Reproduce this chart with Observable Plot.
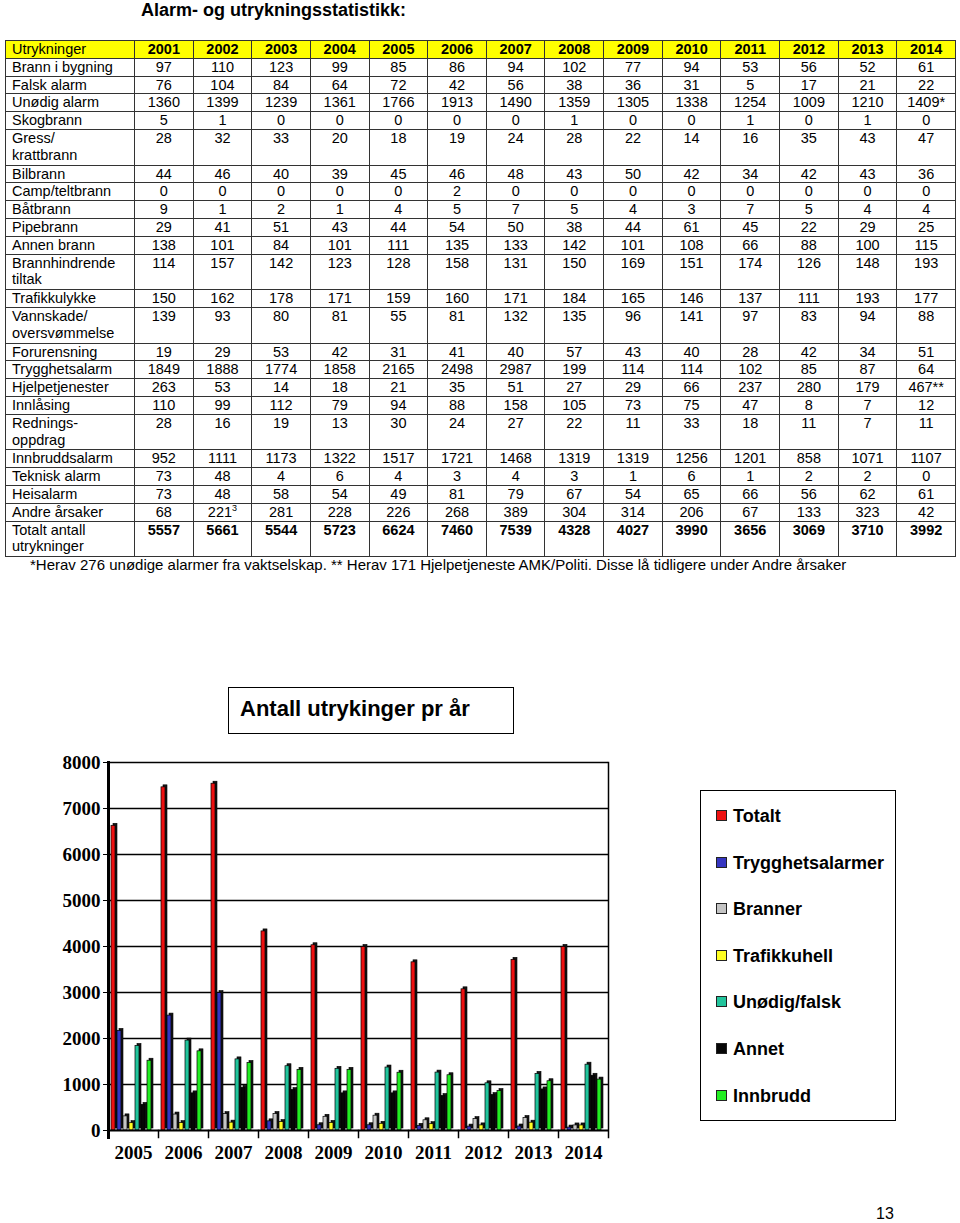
<!DOCTYPE html>
<html>
<head>
<meta charset="utf-8">
<script src="https://cdn.jsdelivr.net/npm/d3@7"></script>
<script src="https://cdn.jsdelivr.net/npm/@observablehq/plot@0.6"></script>
<style>
  html, body { margin: 0; padding: 0; background: #fff; }
  #page { position: relative; width: 960px; height: 1223px; overflow: hidden; font-family: "Liberation Sans", Arial, sans-serif; color: #000; }
  #title { position: absolute; left: 141px; top: 0px; font-size: 18px; line-height: 20px; font-weight: bold; }
  #tbl { position: absolute; left: 5px; top: 40px; width: 951px; border-collapse: collapse; table-layout: fixed; font-size: 14.5px; }
  #tbl td { border: 1px solid #333; padding: 0; line-height: 16.8px; text-align: center; vertical-align: top; white-space: nowrap; }
  #tbl td.lab { text-align: left; padding-left: 6px; }
  #tbl tr.head td { background: #ffff00; font-weight: bold; }
  #tbl tr.head td.lab { font-weight: normal; }
  #tbl tr.tot td { font-weight: bold; }
  #tbl tr.tot td.lab { font-weight: normal; }
  #note { position: absolute; left: 30px; top: 556px; font-size: 15px; line-height: 18px; white-space: nowrap; }
  #ctitle { position: absolute; left: 228px; top: 687px; width: 286px; height: 47px; border: 1.5px solid #000; box-sizing: border-box; font-size: 22px; font-weight: bold; padding-left: 11px; line-height: 42px; }
  #chart { position: absolute; left: 0; top: 740px; }
  #legend { position: absolute; left: 700px; top: 790px; width: 196px; height: 331px; border: 1.5px solid #000; box-sizing: border-box; }
  .li { position: absolute; left: 15px; font-size: 18px; font-weight: bold; height: 22px; line-height: 22px; white-space: nowrap; }
  .sw { display: inline-block; width: 9px; height: 9px; border: 1px solid #222; margin-right: 6px; vertical-align: 1px; }
  #pnum { position: absolute; left: 876px; top: 1205px; font-size: 16px; }
</style>
</head>
<body>
<div id="page">
  <div id="title">Alarm- og utrykningsstatistikk:</div>
  <table id="tbl"></table>
  <div id="note">*Herav 276 unødige alarmer fra vaktselskap. ** Herav 171 Hjelpetjeneste AMK/Politi. Disse lå tidligere under Andre årsaker</div>
  <div id="ctitle">Antall utrykinger pr år</div>
  <div id="chart"></div>
  <div id="legend"></div>
  <div id="pnum">13</div>
</div>
<script>
// ---------- Table data ----------
const tableYears = [2001, 2002, 2003, 2004, 2005, 2006, 2007, 2008, 2009, 2010, 2011, 2012, 2013, 2014];
const brannIBygning = [97, 110, 123, 99, 85, 86, 94, 102, 77, 94, 53, 56, 52, 61];
const falskAlarm = [76, 104, 84, 64, 72, 42, 56, 38, 36, 31, 5, 17, 21, 22];
const unodigAlarm = [1360, 1399, 1239, 1361, 1766, 1913, 1490, 1359, 1305, 1338, 1254, 1009, 1210, "1409*"];
const skogbrann = [5, 1, 0, 0, 0, 0, 0, 1, 0, 0, 1, 0, 1, 0];
const gressKrattbrann = [28, 32, 33, 20, 18, 19, 24, 28, 22, 14, 16, 35, 43, 47];
const bilbrann = [44, 46, 40, 39, 45, 46, 48, 43, 50, 42, 34, 42, 43, 36];
const campTeltbrann = [0, 0, 0, 0, 0, 2, 0, 0, 0, 0, 0, 0, 0, 0];
const baatbrann = [9, 1, 2, 1, 4, 5, 7, 5, 4, 3, 7, 5, 4, 4];
const pipebrann = [29, 41, 51, 43, 44, 54, 50, 38, 44, 61, 45, 22, 29, 25];
const annenBrann = [138, 101, 84, 101, 111, 135, 133, 142, 101, 108, 66, 88, 100, 115];
const brannhindrende = [114, 157, 142, 123, 128, 158, 131, 150, 169, 151, 174, 126, 148, 193];
const trafikkulykke = [150, 162, 178, 171, 159, 160, 171, 184, 165, 146, 137, 111, 193, 177];
const vannskade = [139, 93, 80, 81, 55, 81, 132, 135, 96, 141, 97, 83, 94, 88];
const forurensning = [19, 29, 53, 42, 31, 41, 40, 57, 43, 40, 28, 42, 34, 51];
const trygghetsalarm = [1849, 1888, 1774, 1858, 2165, 2498, 2987, 199, 114, 114, 102, 85, 87, 64];
const hjelpetjenester = [263, 53, 14, 18, 21, 35, 51, 27, 29, 66, 237, 280, 179, "467**"];
const innlaasing = [110, 99, 112, 79, 94, 88, 158, 105, 73, 75, 47, 8, 7, 12];
const redningsoppdrag = [28, 16, 19, 13, 30, 24, 27, 22, 11, 33, 18, 11, 7, 11];
const innbruddsalarm = [952, 1111, 1173, 1322, 1517, 1721, 1468, 1319, 1319, 1256, 1201, 858, 1071, 1107];
const tekniskAlarm = [73, 48, 4, 6, 4, 3, 4, 3, 1, 6, 1, 2, 2, 0];
const heisalarm = [73, 48, 58, 54, 49, 81, 79, 67, 54, 65, 66, 56, 62, 61];
const andreAarsaker = [68, "221³", 281, 228, 226, 268, 389, 304, 314, 206, 67, 133, 323, 42];
const totaltAntall = [5557, 5661, 5544, 5723, 6624, 7460, 7539, 4328, 4027, 3990, 3656, 3069, 3710, 3992];

const tableRows = [
  ["Brann i bygning", brannIBygning],
  ["Falsk alarm", falskAlarm],
  ["Unødig alarm", unodigAlarm],
  ["Skogbrann", skogbrann],
  ["Gress/\nkrattbrann", gressKrattbrann],
  ["Bilbrann", bilbrann],
  ["Camp/teltbrann", campTeltbrann],
  ["Båtbrann", baatbrann],
  ["Pipebrann", pipebrann],
  ["Annen brann", annenBrann],
  ["Brannhindrende\ntiltak", brannhindrende],
  ["Trafikkulykke", trafikkulykke],
  ["Vannskade/\noversvømmelse", vannskade],
  ["Forurensning", forurensning],
  ["Trygghetsalarm", trygghetsalarm],
  ["Hjelpetjenester", hjelpetjenester],
  ["Innlåsing", innlaasing],
  ["Rednings-\noppdrag", redningsoppdrag],
  ["Innbruddsalarm", innbruddsalarm],
  ["Teknisk alarm", tekniskAlarm],
  ["Heisalarm", heisalarm],
  ["Andre årsaker", andreAarsaker],
  ["Totalt antall\nutrykninger", totaltAntall]
];

// ---------- Chart data ----------
const chartYears = [2005, 2006, 2007, 2008, 2009, 2010, 2011, 2012, 2013, 2014];
const seriesNames = ["Totalt", "Trygghetsalarmer", "Branner", "Trafikkuhell", "Unødig/falsk", "Annet", "Innbrudd"];
const seriesColors = ["#ee1111", "#3535c0", "#c4c4c4", "#ffff22", "#22c49c", "#060606", "#22ee22"];
const totalt = [6624, 7460, 7539, 4328, 4027, 3990, 3656, 3069, 3710, 3992];
const trygghetsalarmer = [2165, 2498, 2987, 199, 114, 114, 102, 85, 87, 64];
const branner = [307, 347, 356, 359, 298, 322, 222, 248, 272, 110];
const trafikkuhell = [159, 160, 171, 184, 165, 146, 137, 111, 170, 110];
const unodigFalsk = [1838, 1955, 1546, 1397, 1341, 1369, 1259, 1026, 1231, 1431];
const annet = [557, 807, 929, 879, 807, 807, 750, 771, 893, 1190];
const innbrudd = [1517, 1721, 1468, 1319, 1319, 1256, 1201, 858, 1071, 1107];
const yTicks = [0, 1000, 2000, 3000, 4000, 5000, 6000, 7000, 8000];

// ---------- Build table ----------
const tbl = document.getElementById("tbl");
const colgroup = document.createElement("colgroup");
colgroup.innerHTML = `<col style="width:129px">` + tableYears.map(() => `<col>`).join("");
tbl.appendChild(colgroup);
function addRow(label, values, cls) {
  const tr = document.createElement("tr");
  if (cls) tr.className = cls;
  const lines = label.split("\n").length;
  const h = lines > 1 ? 35.6 : 17.8;
  const td0 = document.createElement("td");
  td0.className = "lab";
  td0.style.height = (h - 1) + "px";
  td0.innerHTML = label.split("\n").join("<br>");
  tr.appendChild(td0);
  values.forEach(v => {
    const td = document.createElement("td");
    const s = String(v);
    if (s.endsWith("³")) td.innerHTML = s.slice(0, -1) + '<sup style="font-size:9px;line-height:0;vertical-align:6px">3</sup>';
    else td.textContent = s;
    tr.appendChild(td);
  });
  tbl.appendChild(tr);
}
addRow("Utrykninger", tableYears, "head");
tableRows.forEach(([lab, vals], i) => addRow(lab, vals, i === tableRows.length - 1 ? "tot" : null));

// ---------- Build chart ----------
const seriesValues = [totalt, trygghetsalarmer, branner, trafikkuhell, unodigFalsk, annet, innbrudd];
const data = chartYears.flatMap((yr, i) => seriesNames.map((s, j) => ({year: yr, series: s, value: seriesValues[j][i]})));

const W = 640, H = 440, mT = 22, mB = 50, mL = 105, mR = 30;
const plotH = H - mT - mB;

const chart = Plot.plot({
  width: W, height: H, marginTop: mT, marginBottom: mB, marginLeft: mL, marginRight: mR,
  style: {fontFamily: "'Liberation Serif', 'Times New Roman', serif", fontSize: "19px", fontWeight: "bold", background: "white", overflow: "visible", color: "#000"},
  fx: {domain: chartYears, padding: 0, axis: "bottom", tickSize: 0, tickPadding: 15, tickFormat: d3.format("d"), label: null},
  x: {domain: seriesNames, paddingInner: 0, paddingOuter: 0.5, align: 0.35, axis: null},
  y: {domain: [0, 8000], ticks: yTicks, tickFormat: d3.format("d"), tickSize: 5, tickPadding: 3, label: null},
  color: {domain: seriesNames, range: seriesColors},
  marks: [
    Plot.ruleY(yTicks.filter(d => d > 0), {stroke: "#000", strokeWidth: 1.5}),
    Plot.barY(data, {fx: "year", x: "series", y: "value", fill: "#151515", stroke: "#000", strokeWidth: 0.6, dx: 2, dy: -2, insetRight: 2}),
    Plot.barY(data, {fx: "year", x: "series", y: "value", fill: "series", stroke: "#000", strokeWidth: 0.7, insetRight: 2}),
    Plot.ruleY([0], {stroke: "#000", strokeWidth: 2}),
    Plot.frame({anchor: "left", insetTop: plotH, insetBottom: -7, stroke: "#000", strokeWidth: 1.5}),
    Plot.frame({anchor: "left", facetAnchor: "left", insetBottom: -7, stroke: "#000", strokeWidth: 3}),
    Plot.frame({anchor: "right", facetAnchor: "right", insetBottom: -7, stroke: "#000", strokeWidth: 1.5})
  ]
});
document.getElementById("chart").appendChild(chart);

// ---------- Legend ----------
const legend = document.getElementById("legend");
seriesNames.forEach((s, i) => {
  const d = document.createElement("div");
  d.className = "li";
  d.style.top = (14 + i * 46.6) + "px";
  d.innerHTML = `<span class="sw" style="background:${seriesColors[i]}"></span>${s}`;
  legend.appendChild(d);
});
</script>
</body>
</html>
